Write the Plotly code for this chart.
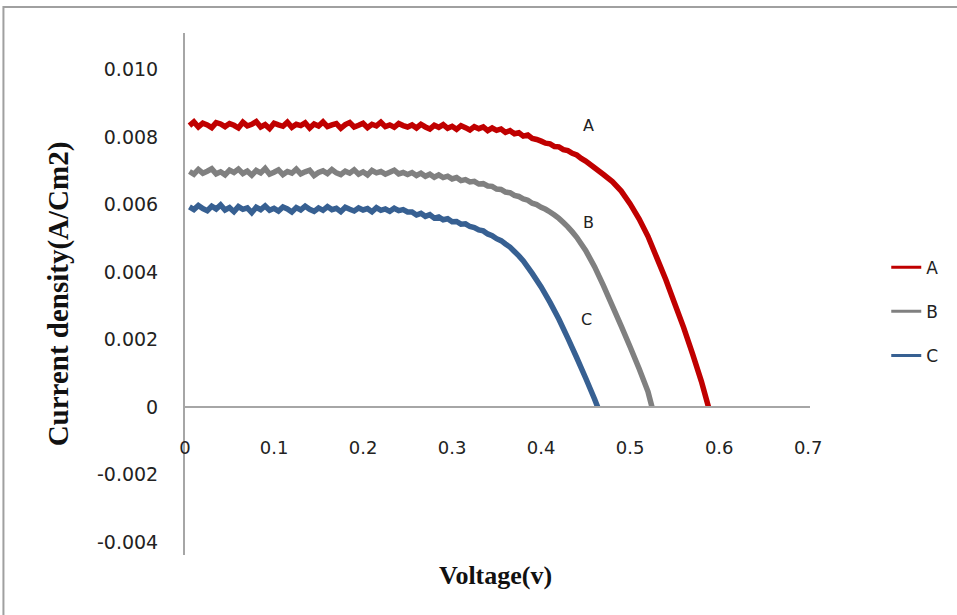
import plotly.graph_objects as go

# ---------------- data (current density in mA/cm2, converted to A/cm2 below) ----------------
V_sweep = [0.005, 0.010, 0.015, 0.020, 0.025, 0.030, 0.035, 0.040, 0.045, 0.050,
           0.055, 0.060, 0.065, 0.070, 0.075, 0.080, 0.085, 0.090, 0.095, 0.100,
           0.105, 0.110, 0.115, 0.120, 0.125, 0.130, 0.135, 0.140, 0.145, 0.150,
           0.155, 0.160, 0.165, 0.170, 0.175, 0.180, 0.185, 0.190, 0.195, 0.200,
           0.205, 0.210, 0.215, 0.220, 0.225, 0.230, 0.235, 0.240, 0.245, 0.250]

A_flat_mA = [8.34, 8.45, 8.30, 8.41, 8.36, 8.28, 8.43, 8.39, 8.31, 8.40,
             8.35, 8.27, 8.44, 8.33, 8.38, 8.46, 8.30, 8.37, 8.25, 8.41,
             8.36, 8.32, 8.44, 8.29, 8.38, 8.34, 8.42, 8.27, 8.39, 8.33,
             8.45, 8.31, 8.36, 8.40, 8.26, 8.37, 8.43, 8.30, 8.35, 8.41,
             8.28, 8.38, 8.33, 8.44, 8.31, 8.36, 8.29, 8.40, 8.34, 8.30]
B_flat_mA = [6.98, 6.90, 7.04, 6.93, 6.99, 7.06, 6.91, 6.97, 6.88, 7.02,
             6.95, 7.05, 6.92, 6.99, 6.87, 7.01, 6.94, 7.07, 6.90, 6.96,
             7.03, 6.89, 6.98, 6.93, 7.05, 6.91, 6.97, 7.02, 6.86, 6.95,
             7.00, 6.92, 7.04, 6.94, 6.89, 6.99, 6.93, 7.03, 6.90, 6.97,
             6.88, 7.01, 6.94, 6.98, 6.90, 6.96, 7.02, 6.91, 6.95, 6.89]
C_flat_mA = [5.93, 5.85, 5.97, 5.88, 5.82, 5.95, 5.87, 5.99, 5.84, 5.91,
             5.79, 5.94, 5.86, 5.90, 5.76, 5.92, 5.85, 5.96, 5.83, 5.89,
             5.81, 5.93, 5.87, 5.78, 5.91, 5.84, 5.95, 5.86, 5.80, 5.90,
             5.83, 5.94, 5.85, 5.89, 5.79, 5.92, 5.86, 5.81, 5.90, 5.84,
             5.88, 5.79, 5.91, 5.83, 5.87, 5.80, 5.89, 5.82, 5.85, 5.78]

V_tail_A = [0.255, 0.260, 0.265, 0.270, 0.275, 0.280, 0.285, 0.290, 0.295, 0.300,
            0.305, 0.310, 0.315, 0.320, 0.325, 0.330, 0.335, 0.340, 0.345, 0.350,
            0.355, 0.360, 0.365, 0.370, 0.375, 0.380, 0.385, 0.390, 0.395, 0.400,
            0.405, 0.410, 0.415, 0.420, 0.425, 0.430, 0.435, 0.440, 0.445, 0.450,
            0.46, 0.47, 0.48, 0.49, 0.50, 0.51, 0.52, 0.53, 0.54, 0.55,
            0.56, 0.57, 0.58, 0.588]
A_tail_mA = [8.36, 8.27, 8.38, 8.30, 8.24, 8.35, 8.29, 8.37, 8.26, 8.32,
             8.23, 8.34, 8.28, 8.21, 8.31, 8.25, 8.30, 8.19, 8.27, 8.20,
             8.24, 8.14, 8.19, 8.10, 8.13, 8.03, 8.06, 7.96, 7.93, 7.88,
             7.82, 7.80, 7.72, 7.71, 7.63, 7.60, 7.52, 7.47, 7.37, 7.29,
             7.09, 6.89, 6.68, 6.40, 6.02, 5.58, 5.06, 4.42, 3.78, 3.07,
             2.36, 1.58, 0.76, 0.0]

V_tail_B = [0.255, 0.260, 0.265, 0.270, 0.275, 0.280, 0.285, 0.290, 0.295, 0.300,
            0.305, 0.310, 0.315, 0.320, 0.325, 0.330, 0.335, 0.340, 0.345, 0.350,
            0.355, 0.360, 0.365, 0.370, 0.375, 0.380, 0.385, 0.390, 0.395, 0.400,
            0.405, 0.410, 0.415, 0.420, 0.425, 0.430, 0.435, 0.440,
            0.45, 0.46, 0.47, 0.48, 0.49, 0.50, 0.51, 0.52, 0.5245]
B_tail_mA = [6.95, 6.86, 6.93, 6.84, 6.90, 6.81, 6.88, 6.80, 6.84, 6.76,
             6.80, 6.71, 6.74, 6.67, 6.69, 6.61, 6.62, 6.55, 6.54, 6.46,
             6.45, 6.37, 6.35, 6.27, 6.24, 6.17, 6.13, 6.04, 6.00, 5.92,
             5.86, 5.78, 5.69, 5.59, 5.47, 5.34, 5.19, 5.03,
             4.64, 4.16, 3.60, 3.00, 2.40, 1.78, 1.14, 0.46, 0.0]

V_tail_C = [0.255, 0.260, 0.265, 0.270, 0.275, 0.280, 0.285, 0.290, 0.295, 0.300,
            0.305, 0.310, 0.315, 0.320, 0.325, 0.330, 0.335, 0.340, 0.345, 0.350,
            0.355, 0.360, 0.365, 0.370, 0.375, 0.380,
            0.39, 0.40, 0.41, 0.42, 0.43, 0.44, 0.45, 0.46, 0.4635]
C_tail_mA = [5.78, 5.69, 5.74, 5.65, 5.70, 5.60, 5.63, 5.55, 5.58, 5.49,
             5.50, 5.42, 5.43, 5.35, 5.32, 5.25, 5.22, 5.13, 5.08, 4.99,
             4.93, 4.83, 4.74, 4.61, 4.48, 4.33,
             3.96, 3.56, 3.10, 2.60, 2.04, 1.46, 0.86, 0.24, 0.0]

series_names = ["A", "B", "C"]
series_colors = ["#C00000", "#808080", "#376092"]

x_tickvals = [0, 0.1, 0.2, 0.3, 0.4, 0.5, 0.6, 0.7]
x_ticktext = ["0", "0.1", "0.2", "0.3", "0.4", "0.5", "0.6", "0.7"]
y_tickvals = [-0.004, -0.002, 0, 0.002, 0.004, 0.006, 0.008, 0.010]
y_ticktext = ["-0.004", "-0.002", "0", "0.002", "0.004", "0.006", "0.008", "0.010"]

Y_MIN, Y_MAX = -0.004386, 0.011085
X_MIN, X_MAX = 0.0, 0.702

# ---------------- build ----------------
series_V = [V_sweep + V_tail_A, V_sweep + V_tail_B, V_sweep + V_tail_C]
series_J = [[v * 1e-3 for v in A_flat_mA + A_tail_mA],
            [v * 1e-3 for v in B_flat_mA + B_tail_mA],
            [v * 1e-3 for v in C_flat_mA + C_tail_mA]]

fig = go.Figure()
for name, col, xs, ys in zip(series_names, series_colors, series_V, series_J):
    fig.add_trace(go.Scatter(x=xs, y=ys, mode="lines", name=name,
                             line=dict(color=col, width=5.5, simplify=False),
                             showlegend=False, hoverinfo="skip"))
# legend entries (thinner line like the original legend)
for name, col in zip(series_names, series_colors):
    fig.add_trace(go.Scatter(x=[None], y=[None], mode="lines", name=name,
                             legendgroup=name, line=dict(color=col, width=3),
                             showlegend=True))

# curve labels
label_pos = {"A": (0.4528, 0.00833), "B": (0.4528, 0.00548), "C": (0.4505, 0.00258)}
for name in series_names:
    lx, ly = label_pos[name]
    fig.add_annotation(x=lx, y=ly, text=name, showarrow=False,
                       font=dict(family="DejaVu Sans", size=16, color="#222222"))

# x-axis title
fig.add_annotation(xref="paper", yref="paper", x=0.497, y=-0.040, text="<b>Voltage(v)</b>",
                   showarrow=False, yanchor="middle",
                   font=dict(family="Liberation Serif", size=26, color="#111111"))

zero_pos = (0 - Y_MIN) / (Y_MAX - Y_MIN)

fig.update_layout(
    width=957, height=615,
    margin=dict(l=185, r=147, t=33, b=60),
    paper_bgcolor="white", plot_bgcolor="white",
    xaxis=dict(range=[X_MIN, X_MAX], tickvals=x_tickvals, ticktext=x_ticktext,
               showgrid=False, zeroline=False, showline=True, linecolor="#A6A6A6",
               linewidth=2, anchor="free", position=zero_pos, ticks="",
               ticklabelstandoff=24,
               tickfont=dict(family="DejaVu Sans", size=18, color="#222222")),
    yaxis=dict(range=[Y_MIN, Y_MAX], tickvals=y_tickvals, ticktext=y_ticktext,
               showgrid=False, zeroline=False, showline=True, linecolor="#A6A6A6",
               linewidth=2, ticks="", ticklabelstandoff=21,
               tickfont=dict(family="DejaVu Sans", size=19, color="#222222"),
               title=dict(text="<b>Current density(A/Cm2)</b>", standoff=20,
                          font=dict(family="Liberation Serif", size=29, color="#111111"))),
    legend=dict(x=1.122, y=0.585, xanchor="left", yanchor="top",
                tracegroupgap=19, bgcolor="rgba(0,0,0,0)",
                font=dict(family="DejaVu Sans", size=17, color="#222222")),
    shapes=[dict(type="rect", xref="paper", yref="paper",
                 x0=-0.2905, x1=1.30, y0=-0.15, y1=1.0498,
                 line=dict(color="#A0A0A0", width=2), fillcolor="rgba(0,0,0,0)",
                 layer="below")],
)

fig.write_html("out.html")
